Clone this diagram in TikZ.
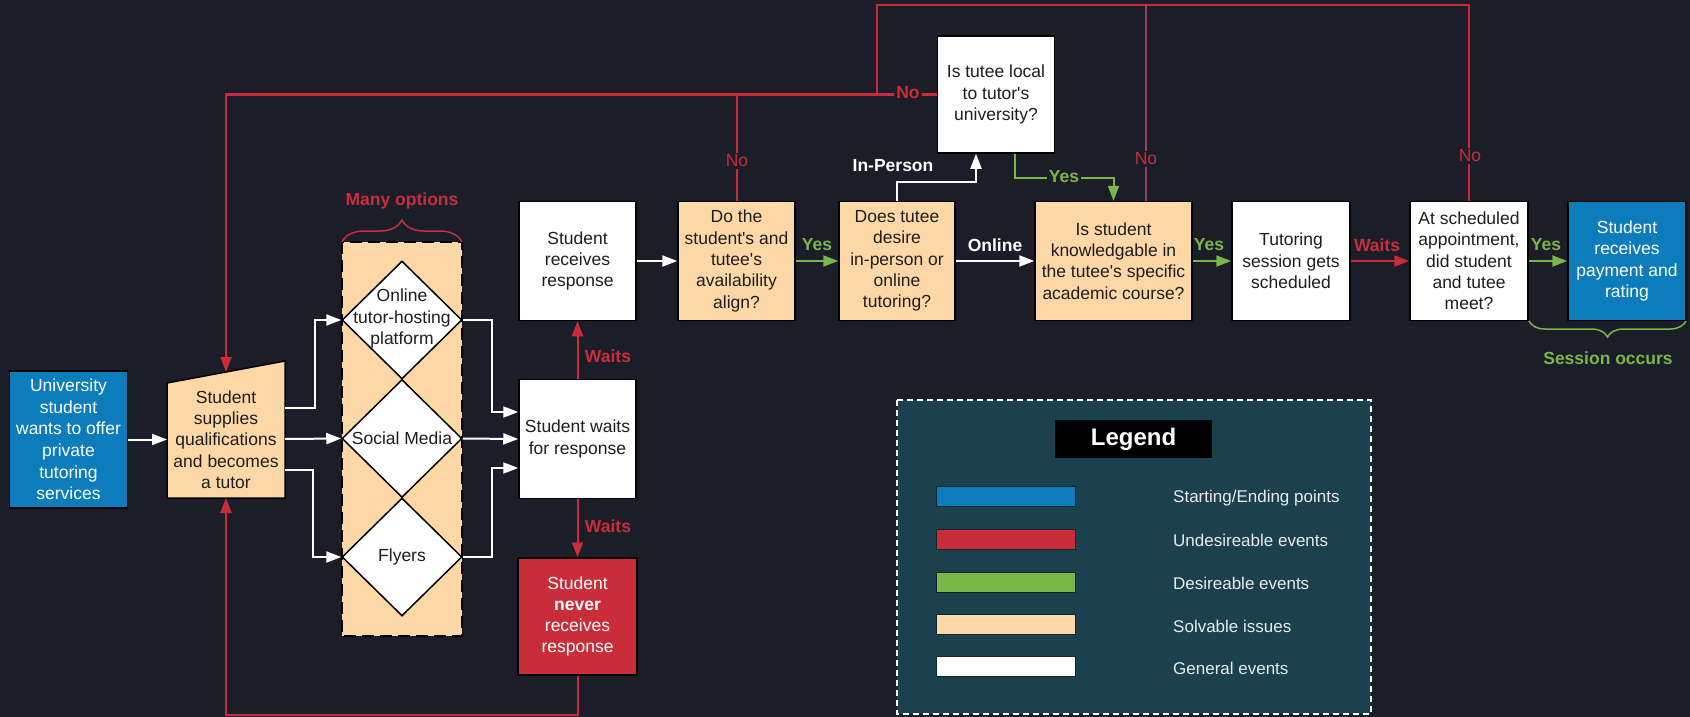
\documentclass[tikz,border=0pt]{standalone}
\usepackage{fontspec}
\setmainfont{Liberation Sans}[Ligatures=TeXOff]
\usetikzlibrary{arrows.meta,decorations.pathreplacing,calc,shapes.geometric}
\definecolor{bg}{HTML}{1B1E29}
\definecolor{lblue}{HTML}{0C7CBA}
\definecolor{lred}{HTML}{C92D39}
\definecolor{mred}{HTML}{94404F}
\definecolor{lgreen}{HTML}{7AB648}
\definecolor{lorange}{HTML}{FDD8A6}
\definecolor{legbg}{HTML}{1B404E}
\definecolor{ink}{HTML}{1E1E1E}
\begin{document}
\begin{tikzpicture}[x=1pt,y=-1pt,
  txt/.style={align=center,inner sep=0pt,font=\fontsize{17.5}{21.3}\selectfont,text=ink},
  box/.style={txt,draw=black,line width=1.5pt,minimum width=117pt,minimum height=119pt,fill=white},
  dia/.style={shape=diamond,draw=black,fill=white,line width=1.5pt,minimum width=120pt,minimum height=118pt,inner sep=0pt},
  tip/.style={-{Triangle[length=15pt,width=11pt]}},
  wline/.style={draw=white,line width=2pt},
  rline/.style={draw=lred,line width=2pt},
  gline/.style={draw=lgreen,line width=2pt},
  warr/.style={wline,tip},
  rarr/.style={rline,tip},
  garr/.style={gline,tip},
  lbl/.style={font=\bfseries\fontsize{17.5}{20}\selectfont,inner sep=1.5pt},
  nlbl/.style={font=\fontsize{17.5}{20}\selectfont,inner sep=2pt,fill=bg,text=lred},
  sw/.style={draw=legbg!60!black,line width=1pt,minimum width=139pt,minimum height=20pt,inner sep=0pt},
  ltext/.style={anchor=west,text=white!92!black,font=\fontsize{17}{20}\selectfont,inner sep=0pt}
]
\fill[bg] (0,0) rectangle (1690,717);
\useasboundingbox (0,0) rectangle (1690,717);

% start node
\node[box,fill=lblue,text=white,minimum width=118pt,minimum height=137pt,font=\fontsize{17.5}{21.6}\selectfont] (start) at (68.5,439.5) {University\\student\\wants to offer\\private\\tutoring\\services};

% trapezoid (manual input)
\coordinate (tA) at (167,383);
\coordinate (tB) at (285,361);
\coordinate (tC) at (285,498);
\coordinate (tD) at (167,498);
\filldraw[fill=lorange,draw=black,line width=1.5pt] (tA) -- (tB) -- (tC) -- (tD) -- cycle;
\node[txt] (trap) at (226,439.5) {Student\\supplies\\qualifications\\and becomes\\a tutor};
\coordinate (trapTop) at (226,372);
\coordinate (trapBot) at (226,498);
\coordinate (trapIn) at (167,439.5);
\coordinate (trapO1) at (285,408);
\coordinate (trapO2) at (285,439);
\coordinate (trapO3) at (285,470);

% options column
\filldraw[fill=lorange,draw=black,line width=1.5pt,dash pattern=on 12pt off 6pt] (342,242) rectangle (462,636);
\node[dia] (d1) at (402,320) {};
\node[dia] (d2) at (402,438.5) {};
\node[dia] (d3) at (402,557) {};
\node[txt] (d1t) at (402,318.5) {Online\\tutor-hosting\\platform};
\node[txt] (d2t) at (402,438.5) {Social Media};
\node[txt] (d3t) at (402,557) {Flyers};
\draw[lred,line width=1.5pt,decorate,decoration={brace,amplitude=22pt}] (342,242) -- (462,242);
\node[lbl,text=lred] (many) at (402,201) {Many options};

% response boxes
\node[box] (waits) at (577.5,439) {Student waits\\for response};
\node[box] (recv) at (577.5,261) {Student\\receives\\response};
\node[box,fill=lred,text=white,minimum width=119pt,minimum height=117pt] (never) at (577.5,616.5) {Student\\\textbf{never}\\receives\\response};

% main row
\node[box,fill=lorange] (do) at (736.5,261) {Do the\\student's and\\tutee's\\availability\\align?};
\node[box,fill=lorange,minimum width=116pt] (does) at (897,261) {Does tutee\\desire\\in-person or\\online\\tutoring?};
\node[box,minimum height=117pt] (local) at (996,94.5) {Is tutee local\\to tutor's\\university?};
\node[box,fill=lorange,minimum width=157pt] (know) at (1113.5,261) {Is student\\knowledgable in\\the tutee's specific\\academic course?};
\node[box,minimum width=118pt] (tut) at (1291,261) {Tutoring\\session gets\\scheduled};
\node[box,minimum width=118pt] (at) at (1469,261) {At scheduled\\appointment,\\did student\\and tutee\\meet?};
\node[box,fill=lblue,text=white,minimum width=118pt] (pay) at (1627,261) {Student\\receives\\payment and\\rating};

% connectors
\draw[warr] (start.east) -- (trapIn);
\draw[warr] (trapO1) -- ++(30,0) |- (d1.west);
\draw[warr] (trapO2) -- (d2.west);
\draw[warr] (trapO3) -- ++(28,0) |- (d3.west);
\draw[warr] (d1.east) -- ++(29,0) |- ($(waits.west)+(0,-27)$);
\draw[warr] (d2.east) -- (waits.west);
\draw[warr] (d3.east) -- ++(29,0) |- ($(waits.west)+(0,29)$);
\draw[rarr] (waits.north) -- (recv.south);
\draw[rarr] (waits.south) -- (never.north);
\draw[rarr] (never.south) -- ++(0,39) -| (trapBot);
\draw[warr] (recv.east) -- (do.west);
\draw[garr] (do.east) -- (does.west);
\draw[warr] (does.east) -- (know.west);
\draw[warr] (does.north) -- ++(0,-19) -| ($(local.south)+(-20,0)$);
\draw[garr] ($(local.south)+(19,0)$) -- ++(0,24) -| (know.north);
\draw[garr] (know.east) -- (tut.west);
\draw[rarr] (tut.east) -- (at.west);
\draw[garr] (at.east) -- (pay.west);
\coordinate (topL) at (877,5);
\coordinate (knowNo) at ($(know.north)+(32.5,0)$);
\draw[rline] (do.north) -- (do.north |- local.west);
\draw[rline] (at.north) |- (knowNo |- topL);
\draw[rline,draw=mred] (knowNo) -- (knowNo |- topL);
\draw[rline] (knowNo |- topL) -- (topL) -- (topL |- local.west);
\draw[rarr] (local.west) -| (trapTop);

% labels
\node[lbl,text=lred] (w1) at (608,356) {Waits};
\node[lbl,text=lred] (w2) at (608,526) {Waits};
\node[lbl,text=lgreen] (y1) at (817,245) {Yes};
\node[lbl,text=white] (onl) at (995,245) {Online};
\node[lbl,text=white] (inp) at (893,166) {In-Person};
\node[lbl,text=lgreen] (y3) at (1209,245) {Yes};
\node[lbl,text=lred] (w3) at (1377,245) {Waits};
\node[lbl,text=lgreen] (y4) at (1546,245) {Yes};
\node[nlbl] (n1) at (737,161) {No};
\node[nlbl,font=\bfseries\fontsize{17.5}{20}\selectfont] (n2) at (908,93) {No};
\node[nlbl] (n3) at (1146,159) {No};
\node[nlbl] (n4) at (1470,156) {No};
\node[lbl,text=lgreen,fill=bg] (y2) at (1064,177) {Yes};
\draw[lgreen,line width=1.5pt,decorate,decoration={brace,amplitude=16pt}] (1686,321) -- (1529,321);
\node[lbl,text=lgreen] (sess) at (1608,358) {Session occurs};

% legend
\filldraw[fill=legbg,draw=white,line width=1.5pt,dash pattern=on 6pt off 4pt] (897,400) rectangle (1371,714);
\node[fill=black,minimum width=157pt,minimum height=38pt,inner sep=0pt,text=white,font=\bfseries\fontsize{24}{28}\selectfont] (legt) at (1133.5,439) {Legend};
\node[sw,fill=lblue] (s1) at (1005.5,496) {};
\node[sw,fill=lred] (s2) at (1005.5,539) {};
\node[sw,fill=lgreen] (s3) at (1005.5,582) {};
\node[sw,fill=lorange] (s4) at (1005.5,624) {};
\node[sw,fill=white] (s5) at (1005.5,666) {};
\node[ltext] (l1) at (1173,498) {Starting/Ending points};
\node[ltext] (l2) at (1173,540) {Undesireable events};
\node[ltext] (l3) at (1173,583) {Desireable events};
\node[ltext] (l4) at (1173,626) {Solvable issues};
\node[ltext] (l5) at (1173,668) {General events};
\end{tikzpicture}
\end{document}
